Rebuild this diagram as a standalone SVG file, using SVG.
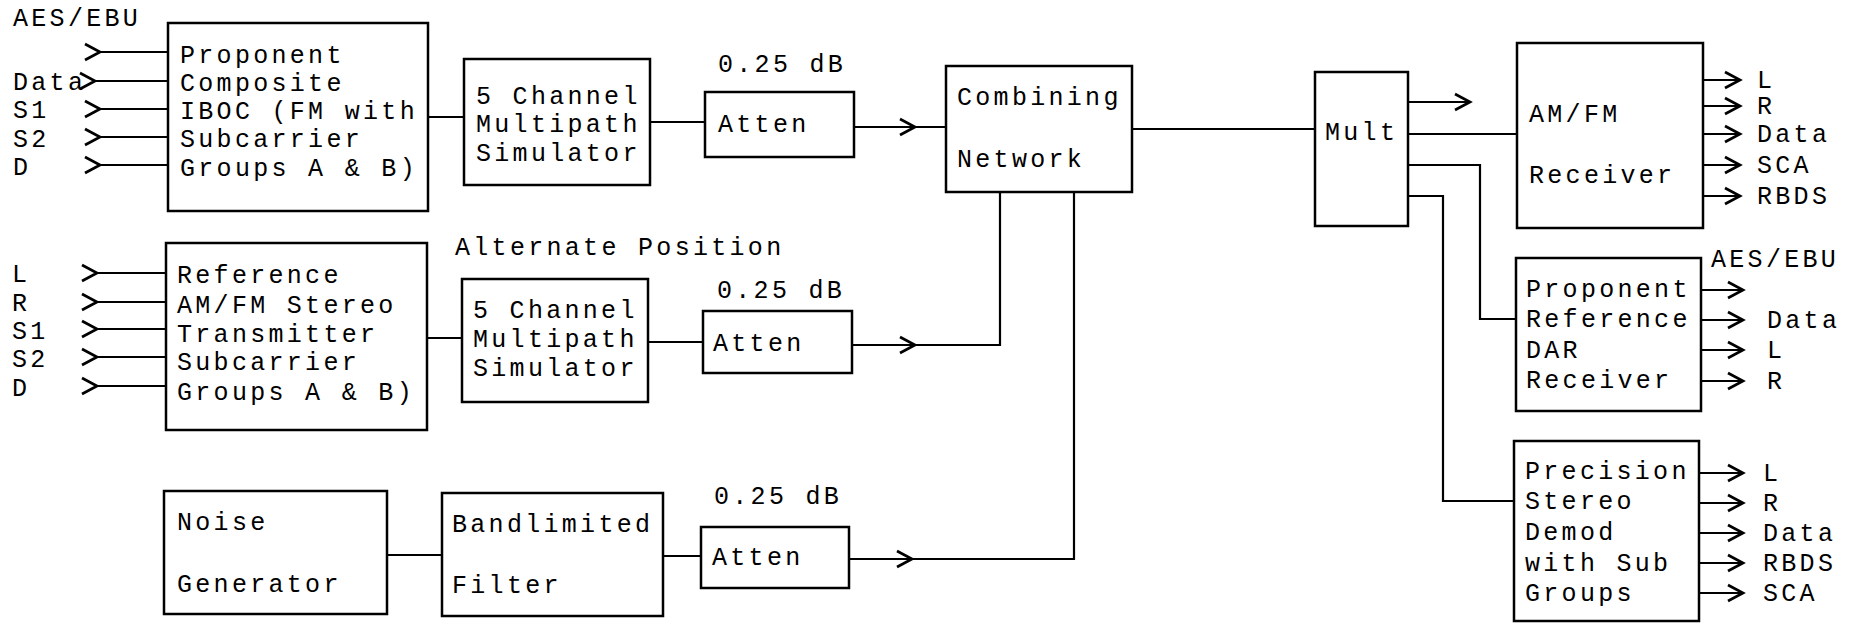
<svg xmlns="http://www.w3.org/2000/svg" xmlns:xlink="http://www.w3.org/1999/xlink" width="1863" height="624" viewBox="0 0 1863 624">
<style>
  .box { fill: #fff; stroke: #000; stroke-width: 2.5; }
  .ln { fill: none; stroke: #000; stroke-width: 2.2; }
  .chev { fill: none; stroke: #000; stroke-width: 2.7; stroke-linejoin: miter; }
  text { font-family: "Liberation Mono", "Courier New", monospace; font-size: 25px; letter-spacing: 3.3px; fill: #000; }
</style>
<defs>
  <path id="chev" class="chev" d="M-15,-8 L0,0 L-15,8"/>
</defs>
<rect width="1863" height="624" fill="#fff"/>

<g id="connectors">
  <!-- inputs to Proponent box -->
  <line class="ln" x1="100" y1="52" x2="168" y2="52"/>
  <line class="ln" x1="95" y1="81" x2="168" y2="81"/>
  <line class="ln" x1="100" y1="109" x2="168" y2="109"/>
  <line class="ln" x1="100" y1="137" x2="168" y2="137"/>
  <line class="ln" x1="100" y1="165" x2="168" y2="165"/>
  <use xlink:href="#chev" x="100" y="52"/>
  <use xlink:href="#chev" x="95" y="81"/>
  <use xlink:href="#chev" x="100" y="109"/>
  <use xlink:href="#chev" x="100" y="137"/>
  <use xlink:href="#chev" x="100" y="165"/>
  <!-- inputs to Reference box -->
  <line class="ln" x1="97" y1="273" x2="166" y2="273"/>
  <line class="ln" x1="97" y1="302" x2="166" y2="302"/>
  <line class="ln" x1="97" y1="329" x2="166" y2="329"/>
  <line class="ln" x1="97" y1="357" x2="166" y2="357"/>
  <line class="ln" x1="97" y1="386" x2="166" y2="386"/>
  <use xlink:href="#chev" x="97" y="273"/>
  <use xlink:href="#chev" x="97" y="302"/>
  <use xlink:href="#chev" x="97" y="329"/>
  <use xlink:href="#chev" x="97" y="357"/>
  <use xlink:href="#chev" x="97" y="386"/>
  <!-- chain 1 -->
  <line class="ln" x1="428" y1="117" x2="464" y2="117"/>
  <line class="ln" x1="650" y1="122" x2="705" y2="122"/>
  <line class="ln" x1="854" y1="127" x2="946" y2="127"/>
  <use xlink:href="#chev" x="915" y="127"/>
  <!-- chain 2 -->
  <line class="ln" x1="427" y1="338" x2="462" y2="338"/>
  <line class="ln" x1="648" y1="342" x2="703" y2="342"/>
  <polyline class="ln" points="852,345 1000,345 1000,192"/>
  <use xlink:href="#chev" x="915" y="345"/>
  <!-- noise chain -->
  <line class="ln" x1="387" y1="555" x2="442" y2="555"/>
  <line class="ln" x1="663" y1="556" x2="701" y2="556"/>
  <polyline class="ln" points="849,559 1074,559 1074,192"/>
  <use xlink:href="#chev" x="912" y="559"/>
  <!-- combining to mult -->
  <line class="ln" x1="1132" y1="129" x2="1315" y2="129"/>
  <!-- mult outputs -->
  <line class="ln" x1="1408" y1="102" x2="1470" y2="102"/>
  <use xlink:href="#chev" x="1470" y="102"/>
  <line class="ln" x1="1408" y1="134" x2="1517" y2="134"/>
  <polyline class="ln" points="1408,165 1480,165 1480,319 1516,319"/>
  <polyline class="ln" points="1408,196 1443,196 1443,501 1514,501"/>
  <!-- AM/FM receiver outputs -->
  <line class="ln" x1="1703" y1="80" x2="1740" y2="80"/>
  <line class="ln" x1="1703" y1="106" x2="1740" y2="106"/>
  <line class="ln" x1="1703" y1="134" x2="1740" y2="134"/>
  <line class="ln" x1="1703" y1="165" x2="1740" y2="165"/>
  <line class="ln" x1="1703" y1="196" x2="1740" y2="196"/>
  <use xlink:href="#chev" x="1740" y="80"/>
  <use xlink:href="#chev" x="1740" y="106"/>
  <use xlink:href="#chev" x="1740" y="134"/>
  <use xlink:href="#chev" x="1740" y="165"/>
  <use xlink:href="#chev" x="1740" y="196"/>
  <!-- DAR receiver outputs -->
  <line class="ln" x1="1701" y1="290" x2="1743" y2="290"/>
  <line class="ln" x1="1701" y1="320" x2="1743" y2="320"/>
  <line class="ln" x1="1701" y1="350" x2="1743" y2="350"/>
  <line class="ln" x1="1701" y1="381" x2="1743" y2="381"/>
  <use xlink:href="#chev" x="1743" y="290"/>
  <use xlink:href="#chev" x="1743" y="320"/>
  <use xlink:href="#chev" x="1743" y="350"/>
  <use xlink:href="#chev" x="1743" y="381"/>
  <!-- Precision demod outputs -->
  <line class="ln" x1="1699" y1="473" x2="1743" y2="473"/>
  <line class="ln" x1="1699" y1="503" x2="1743" y2="503"/>
  <line class="ln" x1="1699" y1="533" x2="1743" y2="533"/>
  <line class="ln" x1="1699" y1="563" x2="1743" y2="563"/>
  <line class="ln" x1="1699" y1="593" x2="1743" y2="593"/>
  <use xlink:href="#chev" x="1743" y="473"/>
  <use xlink:href="#chev" x="1743" y="503"/>
  <use xlink:href="#chev" x="1743" y="533"/>
  <use xlink:href="#chev" x="1743" y="563"/>
  <use xlink:href="#chev" x="1743" y="593"/>
</g>

<g id="input-labels-1">
  <text x="13" y="26">AES/EBU</text>
  <text x="13" y="90">Data</text>
  <text x="13" y="118">S1</text>
  <text x="13" y="147">S2</text>
  <text x="13" y="175">D</text>
</g>
<g id="input-labels-2">
  <text x="12" y="282">L</text>
  <text x="12" y="311">R</text>
  <text x="12" y="339">S1</text>
  <text x="12" y="367">S2</text>
  <text x="12" y="396">D</text>
</g>

<g id="proponent-iboc">
  <rect class="box" x="168" y="23" width="260" height="188"/>
  <text x="180" y="63">Proponent</text>
  <text x="180" y="91">Composite</text>
  <text x="180" y="119">IBOC (FM with</text>
  <text x="180" y="147">Subcarrier</text>
  <text x="180" y="176">Groups A &amp; B)</text>
</g>
<g id="reference-tx">
  <rect class="box" x="166" y="243" width="261" height="187"/>
  <text x="177" y="283">Reference</text>
  <text x="177" y="313">AM/FM Stereo</text>
  <text x="177" y="342">Transmitter</text>
  <text x="177" y="370">Subcarrier</text>
  <text x="177" y="400">Groups A &amp; B)</text>
</g>
<g id="multipath-1">
  <rect class="box" x="464" y="59" width="186" height="126"/>
  <text x="476" y="104">5 Channel</text>
  <text x="476" y="132">Multipath</text>
  <text x="476" y="161">Simulator</text>
</g>
<g id="alternate-label">
  <text x="455" y="255">Alternate Position</text>
</g>
<g id="multipath-2">
  <rect class="box" x="462" y="279" width="186" height="123"/>
  <text x="473" y="318">5 Channel</text>
  <text x="473" y="347">Multipath</text>
  <text x="473" y="376">Simulator</text>
</g>
<g id="atten-1">
  <text x="718" y="72">0.25 dB</text>
  <rect class="box" x="705" y="92" width="149" height="65"/>
  <text x="718" y="132">Atten</text>
</g>
<g id="atten-2">
  <text x="717" y="298">0.25 dB</text>
  <rect class="box" x="703" y="311" width="149" height="62"/>
  <text x="713" y="351">Atten</text>
</g>
<g id="noise-generator">
  <rect class="box" x="164" y="491" width="223" height="123"/>
  <text x="177" y="530">Noise</text>
  <text x="177" y="592">Generator</text>
</g>
<g id="bandlimited-filter">
  <rect class="box" x="442" y="493" width="221" height="123"/>
  <text x="452" y="532">Bandlimited</text>
  <text x="452" y="593">Filter</text>
</g>
<g id="atten-3">
  <text x="714" y="504">0.25 dB</text>
  <rect class="box" x="701" y="527" width="148" height="61"/>
  <text x="712" y="565">Atten</text>
</g>
<g id="combining-network">
  <rect class="box" x="946" y="66" width="186" height="126"/>
  <text x="957" y="105">Combining</text>
  <text x="957" y="167">Network</text>
</g>
<g id="mult">
  <rect class="box" x="1315" y="72" width="93" height="154"/>
  <text x="1325" y="140">Mult</text>
</g>
<g id="amfm-receiver">
  <rect class="box" x="1517" y="43" width="186" height="185"/>
  <text x="1529" y="122">AM/FM</text>
  <text x="1529" y="183">Receiver</text>
  <text x="1757" y="88">L</text>
  <text x="1757" y="114">R</text>
  <text x="1757" y="142">Data</text>
  <text x="1757" y="173">SCA</text>
  <text x="1757" y="204">RBDS</text>
</g>
<g id="dar-receiver">
  <rect class="box" x="1516" y="258" width="185" height="153"/>
  <text x="1526" y="297">Proponent</text>
  <text x="1526" y="327">Reference</text>
  <text x="1526" y="358">DAR</text>
  <text x="1526" y="388">Receiver</text>
  <text x="1711" y="267">AES/EBU</text>
  <text x="1767" y="328">Data</text>
  <text x="1767" y="358">L</text>
  <text x="1767" y="389">R</text>
</g>
<g id="precision-demod">
  <rect class="box" x="1514" y="441" width="185" height="180"/>
  <text x="1525" y="479">Precision</text>
  <text x="1525" y="509">Stereo</text>
  <text x="1525" y="540">Demod</text>
  <text x="1525" y="571">with Sub</text>
  <text x="1525" y="601">Groups</text>
  <text x="1763" y="481">L</text>
  <text x="1763" y="511">R</text>
  <text x="1763" y="541">Data</text>
  <text x="1763" y="571">RBDS</text>
  <text x="1763" y="601">SCA</text>
</g>
</svg>
